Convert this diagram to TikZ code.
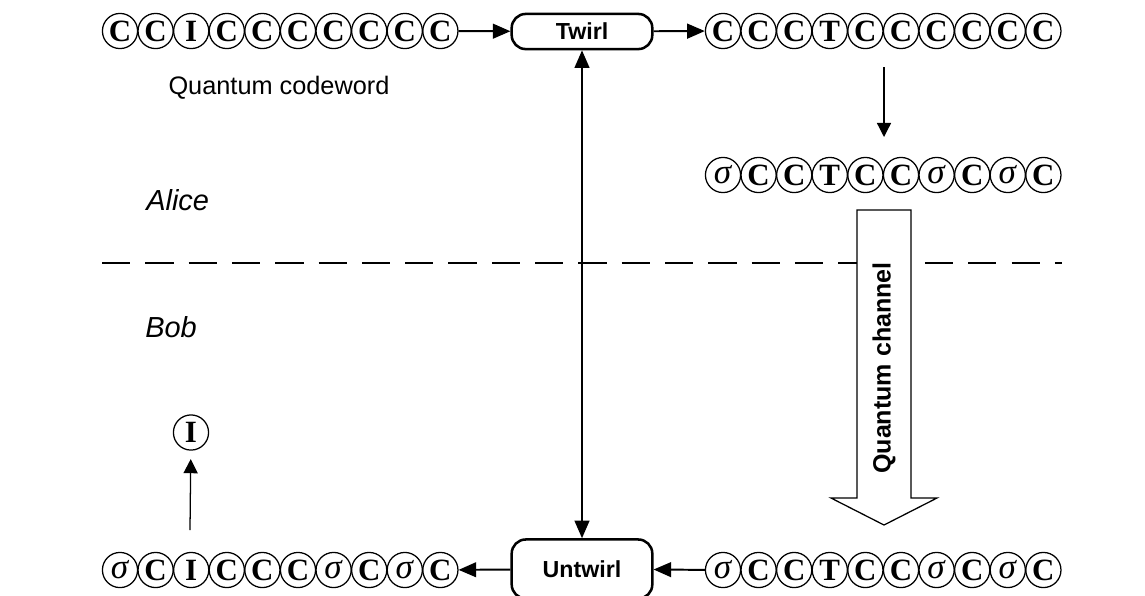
\documentclass[tikz,border=0pt]{standalone}
\usepackage{fontspec}
\setmainfont{Liberation Serif}
\setsansfont{Liberation Sans}
\usepackage{tikz}
\usetikzlibrary{arrows.meta}

\newcommand{\qsig}{\textnormal{\itshape\fontsize{25}{25}\selectfont σ}}

\begin{document}
\begin{tikzpicture}[x=0.025cm, y=-0.025cm,
    qbit/.style={circle, draw, line width=0.9pt, minimum size=25pt, inner sep=0pt,
      font=\fontsize{22}{22}\selectfont\bfseries},
    opbox/.style={draw, rounded corners=10pt, line width=1.8pt, inner sep=0pt,
      minimum width=100pt, font=\sffamily\bfseries\fontsize{16.5}{17}\selectfont},
    party/.style={anchor=west, inner sep=0pt, font=\sffamily\itshape\fontsize{20.6}{21}\selectfont},
    flow/.style={-{Triangle[length=12.5pt,width=10.5pt]}, line width=1.4pt},
    twinflow/.style={{Triangle[length=12.5pt,width=10.5pt]}-{Triangle[length=12.5pt,width=10.5pt]}, line width=1.4pt},
    thinflow/.style={-{Triangle[length=10pt,width=10pt]}, line width=0.9pt}]
  \useasboundingbox (0,0) rectangle (1145,595);

  % alice / bob divider
  \draw[line width=1pt, dash pattern=on 20.1pt off 10.7pt] (102,263) -- (1062,263);

  % codeword rows
  \foreach \q [count=\i] in {C,C,I,C,C,C,C,C,C,C}
    \node[qbit] (tl\i) at ({120+35.6*(\i-1)}, 31) {\q};
  \foreach \q [count=\i] in {C,C,C,T,C,C,C,C,C,C}
    \node[qbit] (tr\i) at ({723+35.6*(\i-1)}, 31) {\q};
  \foreach \q [count=\i] in {\qsig,C,C,T,C,C,\qsig,C,\qsig,C}
    \node[qbit] (mr\i) at ({723+35.6*(\i-1)}, 175) {\q};
  \foreach \q [count=\i] in {\qsig,C,C,T,C,C,\qsig,C,\qsig,C}
    \node[qbit] (br\i) at ({723+35.6*(\i-1)}, 570) {\q};
  \foreach \q [count=\i] in {\qsig,C,I,C,C,C,\qsig,C,\qsig,C}
    \node[qbit] (bl\i) at ({120+35.6*(\i-1)}, 570) {\q};
  \node[qbit] (single) at (191,432.5) {I};

  % twirl operations
  \node[opbox, minimum height=25pt] (twirl) at (582,31.5) {Twirl};
  \node[opbox, minimum height=42pt] (untwirl) at (582,569) {Untwirl};

  % labels
  \node[inner sep=0pt, font=\sffamily\fontsize{18}{18}\selectfont] (codeword) at (279,88) {Quantum codeword};
  \node[party] (alice) at (146,200) {Alice};
  \node[party] (bob) at (145,327) {Bob};

  % quantum channel
  \draw[line width=0.9pt, fill=white] (857,210) -- (911,210) -- (911,498) -- (937,498)
    -- (884,525) -- (831,498) -- (857,498) -- cycle;
  \node[rotate=90, inner sep=0pt, font=\sffamily\bfseries\fontsize{17.8}{18}\selectfont] (channel) at (884,368) {Quantum channel};

  % connectors
  \coordinate (noiseA) at (884,67);
  \coordinate (noiseB) at (884,137);
  \coordinate (peel) at (190,530);
  \draw[flow] (tl10) -- (twirl);
  \draw[flow] (twirl) -- (tr1);
  \draw[thinflow] (noiseA) -- (noiseB);
  \draw[twinflow] (twirl) -- (untwirl);
  \draw[flow] (br1) -- (untwirl);
  \draw[flow] (untwirl) -- (bl10);
  \draw[thinflow, shorten >=6pt] (peel) -- (single);
\end{tikzpicture}
\end{document}
